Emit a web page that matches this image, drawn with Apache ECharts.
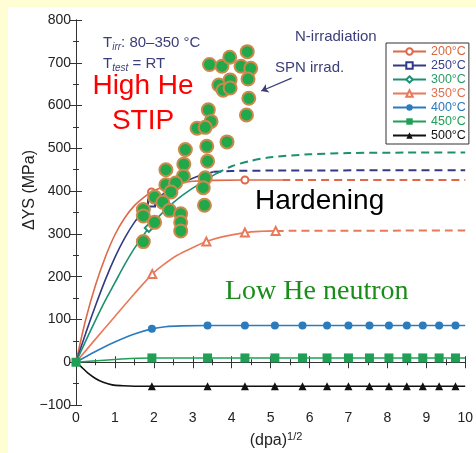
<!DOCTYPE html>
<html>
<head>
<meta charset="utf-8">
<style>
  html, body { margin: 0; padding: 0; background: #fffdd3; }
  #chart { width: 476px; height: 453px; }
</style>
<script src="https://cdn.jsdelivr.net/npm/echarts@6.0.0/dist/echarts.min.js"></script>
</head>
<body>
<div id="chart"></div>
<script>
// temperatures in the legend
const names = ["200°C", "250°C", "300°C", "350°C", "400°C", "450°C", "500°C"];
const lineColors = ["#e0684a", "#323a86", "#1d9070", "#e8795a", "#2b7bbd", "#1fa055", "#111111"];
const textColors = ["#d6683f", "#3b3f8a", "#2c9a6a", "#e0704f", "#2b7bbd", "#1fa055", "#111111"];
const symbols = ["emptyCircle", "emptyRect", "emptyDiamond", "emptyTriangle", "circle", "rect", "triangle"];
const symbolSizes = [7, 7, 8, 8, 8, 9, 8];

const curve200 = [[0, 0, 0], [0.25, 100, 0], [0.5, 180, 0], [0.75, 245, 0], [1.0, 298, 0], [1.25, 337, 0], [1.5, 366, 0],
  [1.75, 386, 0], [1.94, 398, 1], [2.25, 410, 0], [2.5, 417, 0], [3.0, 423, 0], [3.5, 425, 0], [4.34, 426, 1], [5.3, 426, 0]];
const curve250 = [[0, 0, 0], [0.25, 68, 0], [0.5, 132, 0], [0.75, 192, 0], [1.0, 245, 0], [1.25, 290, 0], [1.5, 327, 0],
  [1.75, 355, 0], [1.94, 372, 1], [2.25, 394, 0], [2.5, 408, 0], [2.77, 421, 0], [3.0, 430, 0], [3.25, 438, 0], [3.53, 445, 0]];
const curve300 = [[0, 0, 0], [0.25, 50, 0], [0.5, 98, 0], [0.75, 144, 0], [1.0, 186, 0], [1.25, 228, 0], [1.5, 266, 0],
  [1.87, 314, 1], [2.25, 352, 0], [2.5, 373, 0], [2.75, 391, 0], [3.0, 407, 0], [3.25, 421, 0], [3.6, 441, 0]];
const curve350 = [[0, 0, 0], [0.5, 54, 0], [1.0, 107, 0], [1.5, 160, 0], [1.96, 206, 1], [2.25, 228, 0], [2.6, 250, 0],
  [3.0, 268, 0], [3.35, 282, 1], [3.75, 293, 0], [4.34, 303, 1], [4.75, 306, 0], [5.13, 307, 1]];
const curve400 = [[0, 0, 0], [0.5, 25, 0], [0.94, 45, 0], [1.5, 66, 0], [1.95, 78, 1], [2.3, 83, 0], [2.7, 85, 0], [3.38, 86, 1],
  [4.34, 86, 1], [5.11, 86, 1], [5.82, 86, 1], [6.45, 86, 1], [7.0, 86, 1], [7.54, 86, 1], [8.04, 86, 1], [8.5, 86, 1],
  [8.91, 86, 1], [9.33, 86, 1], [9.75, 86, 1], [10, 86, 0]];
const curve450 = [[0, 0, 1], [1.95, 10, 1], [3.38, 10, 1], [4.34, 10, 1], [5.11, 10, 1], [5.82, 10, 1], [6.45, 10, 1], [7.0, 10, 1],
  [7.54, 10, 1], [8.04, 10, 1], [8.5, 10, 1], [8.91, 10, 1], [9.33, 10, 1], [9.75, 10, 1], [10, 10, 0]];
const curve500 = [[0, 0, 0], [0.15, -12, 0], [0.3, -25, 0], [0.5, -38, 0], [0.7, -47, 0], [0.93, -53, 0], [1.2, -55, 0],
  [1.5, -56, 0], [1.95, -56, 1], [3.38, -56, 1], [4.34, -56, 1], [5.11, -56, 1], [5.82, -56, 1], [6.45, -56, 1], [7.0, -56, 1],
  [7.54, -56, 1], [8.04, -56, 1], [8.5, -56, 1], [8.91, -56, 1], [9.33, -56, 1], [9.75, -56, 1], [10, -56, 0]];

// dashed extrapolations
const dash200 = [[5.3, 426], [10, 426]];
const dash250 = [[3.53, 445], [4.0, 447], [5.0, 448], [10, 449]];
const dash300 = [[3.6, 441], [4.0, 458], [4.5, 471], [5.0, 479], [6.0, 486], [7.0, 489], [8.5, 490], [10, 490]];
const dash350 = [[5.13, 307], [10, 308]];

// SPN irradiation points (High He STIP)
const spnX = [3.43, 3.75, 3.95, 4.24, 4.40, 4.49, 3.67, 3.78, 3.96, 3.96, 4.42, 4.44, 4.38, 3.40, 3.47, 3.11, 3.32, 3.36, 3.88, 2.81,
  2.77, 3.38, 2.31, 2.76, 3.32, 2.31, 2.56, 3.27, 2.44, 2.02, 2.23, 2.40, 1.73, 1.73, 2.69, 3.30, 2.02, 2.69, 2.69, 1.73];
const spnY = [696, 692, 713, 692, 726, 687, 648, 636, 660, 641, 662, 617, 578, 590, 563, 547, 549, 505, 515, 497,
  463, 470, 450, 435, 431, 415, 419, 408, 398, 386, 374, 355, 357, 342, 347, 367, 327, 327, 307, 282];

const curves = [curve200, curve250, curve300, curve350, curve400, curve450, curve500];
const dashes = [dash200, dash250, dash300, dash350];

const chart = echarts.init(document.getElementById("chart"));

const series = [];
curves.forEach((pts, i) => {
  const empty = symbols[i].indexOf("empty") === 0;
  series.push({
    name: names[i],
    type: "line",
    smooth: 0.3,
    symbol: symbols[i],
    symbolSize: symbolSizes[i],
    showSymbol: true,
    data: pts.map((p) => ({ value: [p[0], p[1]], symbol: p[2] ? symbols[i] : "none" })),
    lineStyle: { color: lineColors[i], width: 1.6 },
    itemStyle: { color: lineColors[i], borderWidth: empty ? 1.2 : 0 },
    z: 3,
  });
});
dashes.forEach((pts, i) => {
  series.push({
    name: names[i] + " ext",
    type: "line",
    smooth: 0.3,
    symbol: "none",
    data: pts,
    lineStyle: { color: lineColors[i], width: 2, type: [8, 5] },
    z: 3,
  });
});
series.push({
  name: "SPN irrad.",
  type: "scatter",
  symbol: "circle",
  symbolSize: 13,
  data: spnX.map((x, k) => [x, spnY[k]]),
  itemStyle: { color: "#21a84b", borderColor: "#c98a4c", borderWidth: 2, opacity: 1 },
  z: 6,
  markLine: {
    silent: true,
    symbol: ["none", "arrow"],
    symbolSize: 7,
    label: { show: false },
    lineStyle: { color: "#3b3e78", width: 1.3, type: "solid" },
    data: [[{ coord: [5.54, 664] }, { coord: [4.76, 634] }]],
  },
});

const tickCommon = {
  axisLine: { lineStyle: { color: "#333", width: 1 } },
  axisTick: { inside: true, length: 6, lineStyle: { color: "#333" } },
  minorTick: { show: true, splitNumber: 2, length: 3, lineStyle: { color: "#333" } },
  splitLine: { show: false },
};
const minusFmt = (v) => String(v).replace("-", "\u2212");

const option = {
  animation: false,
  backgroundColor: "#fffdd3",
  grid: { left: 76, top: 20, right: 1, bottom: 48 },
  xAxis: [
    Object.assign({
      type: "value", min: 0, max: 10, interval: 1, position: "bottom",
      axisLabel: { fontSize: 14, color: "#222", margin: 6, fontFamily: "Liberation Sans, Arial" },
    }, tickCommon),
    Object.assign({
      type: "value", min: 0, max: 10, interval: 1, position: "top",
      axisLabel: { show: false },
    }, tickCommon),
  ],
  yAxis: [
    Object.assign({
      type: "value", min: -100, max: 800, interval: 100, position: "left",
      axisLabel: { fontSize: 14, color: "#222", margin: 5, formatter: minusFmt, fontFamily: "Liberation Sans, Arial" },
    }, tickCommon),
    Object.assign({
      type: "value", min: -100, max: 800, interval: 100, position: "right",
      axisLabel: { show: false },
    }, tickCommon),
  ],
  legend: {
    orient: "vertical",
    left: 386,
    top: 43,
    backgroundColor: "#fff",
    borderColor: "#333",
    borderWidth: 1,
    borderRadius: 0,
    padding: [2, 3, 2, 6],
    itemWidth: 33,
    itemHeight: 8,
    itemGap: 1,
    textStyle: { fontSize: 12.5, lineHeight: 11, fontFamily: "Liberation Sans, Arial" },
    data: names.map((n, i) => ({ name: n, textStyle: { color: textColors[i] } })),
  },
  graphic: [
    { type: "rect", z: -10, shape: { x: 8, y: 7, width: 470, height: 450 }, style: { fill: "#fff" } },
    {
      type: "text", x: 103, y: 43,
      style: {
        text: "{a|T}{s|irr}{a|: 80–350 °C}", verticalAlign: "middle", fill: "#3b3e78",
        rich: { a: { fontSize: 15, fontFamily: "Liberation Sans", fill: "#3b3e78" },
                s: { fontSize: 10, fontFamily: "Liberation Sans", fontStyle: "italic", fill: "#3b3e78", padding: [8, 0, 0, 0] } },
      },
    },
    {
      type: "text", x: 103, y: 64,
      style: {
        text: "{a|T}{s|test}{a| = RT}", verticalAlign: "middle", fill: "#3b3e78",
        rich: { a: { fontSize: 15, fontFamily: "Liberation Sans", fill: "#3b3e78" },
                s: { fontSize: 10, fontFamily: "Liberation Sans", fontStyle: "italic", fill: "#3b3e78", padding: [8, 0, 0, 0] } },
      },
    },
    { type: "text", x: 143, y: 86, style: { text: "High He", font: "28px Liberation Sans", fill: "#ff0000", align: "center", verticalAlign: "middle" } },
    { type: "text", x: 143, y: 121, style: { text: "STIP", font: "28px Liberation Sans", fill: "#ff0000", align: "center", verticalAlign: "middle" } },
    { type: "text", x: 295, y: 37, style: { text: "N-irradiation", font: "15px Liberation Sans", fill: "#3b3e78", verticalAlign: "middle" } },
    { type: "text", x: 275, y: 68, style: { text: "SPN irrad.", font: "15px Liberation Sans", fill: "#3b3e78", verticalAlign: "middle" } },
    { type: "text", x: 255, y: 201, style: { text: "Hardening", font: "28px Liberation Sans", fill: "#000", verticalAlign: "middle" } },
    { type: "text", x: 225, y: 292, style: { text: "Low He neutron", font: "28px Liberation Serif", fill: "#1a8c1a", verticalAlign: "middle" } },
    {
      type: "text", x: 30, y: 190, rotation: Math.PI / 2,
      style: { text: "ΔYS (MPa)", font: "16px Liberation Sans", fill: "#222", align: "center", verticalAlign: "middle" },
    },
    {
      type: "text", x: 276, y: 441,
      style: {
        text: "{a|(dpa)}{s|1/2}", align: "center", verticalAlign: "middle",
        rich: { a: { fontSize: 16, fontFamily: "Liberation Sans", fill: "#222" },
                s: { fontSize: 11, fontFamily: "Liberation Sans", fill: "#222", padding: [0, 0, 9, 0] } },
      },
    },
  ],
  series: series,
};

chart.setOption(option);
</script>
</body>
</html>
